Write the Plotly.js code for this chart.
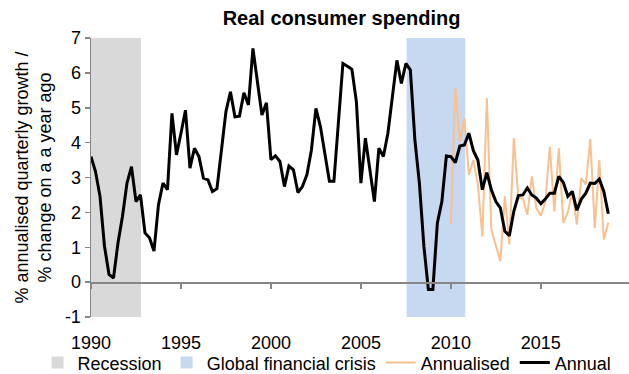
<!DOCTYPE html>
<html>
<head>
<meta charset="utf-8">
<script src="https://cdn.plot.ly/plotly-3.0.1.min.js"></script>
<style>html,body{margin:0;padding:0;background:#fff;}#chart{width:629px;height:374px;}</style>
</head>
<body>
<div id="chart"></div>
<script>
// Quarterly series (first quarter of the start year onward)
const annualStart = 1990;
const annualValues = [
  3.6, 3.17, 2.46, 1.03,
  0.22, 0.12, 1.12, 1.89,
  2.84, 3.31, 2.31, 2.5,
  1.41, 1.27, 0.89, 2.22,
  2.84, 2.65, 4.84, 3.65,
  4.27, 4.93, 3.27, 3.84,
  3.6, 2.98, 2.93, 2.6,
  2.68, 3.79, 4.89, 5.46,
  4.74, 4.76, 5.43, 5.08,
  6.70, 5.74, 4.79, 5.14,
  3.51, 3.62, 3.46, 2.74,
  3.33, 3.22, 2.57, 2.74,
  3.08, 3.79, 4.98, 4.46,
  3.7, 2.89, 2.89, 4.65,
  6.27, 6.19, 6.1, 5.17,
  2.84, 4.13, 3.22, 2.31,
  3.84, 3.6, 4.27, 5.3,
  6.36, 5.7, 6.27, 6.08,
  4.08, 2.84, 1.03, -0.21,
  -0.21, 1.7, 2.31, 3.62,
  3.6, 3.43, 3.9, 3.93,
  4.27, 3.77, 3.5, 2.65,
  3.14, 2.65, 2.31, 2.13,
  1.46, 1.33, 2.03, 2.48,
  2.5, 2.7, 2.5, 2.41,
  2.25, 2.38, 2.55, 2.55,
  3.03, 2.86, 2.46, 2.6,
  2.06, 2.38, 2.55, 2.84,
  2.83, 2.95, 2.6, 1.96
];
const annualisedStart = 2010;
const annualisedValues = [
  1.65, 5.58, 4.03, 4.7,
  3.08, 3.5, 2.8, 1.31,
  5.27, 1.51, 1.05, 0.6,
  2.46, 1.08, 4.13, 2.41,
  2.4, 1.93, 3.03, 2.13,
  1.9, 2.3, 3.89, 2.03,
  3.84, 1.7, 2.0, 2.6,
  1.65, 2.98, 2.8, 4.1,
  1.55, 3.5, 1.22, 1.7
];
// Shaded periods (decimal years)
const recessionPeriod = [1990.0, 1992.78];
const gfcPeriod = [2007.54, 2010.8];
// Axis ticks
const xTickVals = [1990, 1995, 2000, 2005, 2010, 2015];
const yTickVals = [-1, 0, 1, 2, 3, 4, 5, 6, 7];

const quarters = (start, n) => Array.from({length: n}, (_, i) => start + i / 4);

const FONT = 'Liberation Sans, Arial, sans-serif';
const AXIS_GREY = '#868686';
const yRange = [-1, 7];
const xRange = [1990, 2019.9];
const W = 629, H = 374;

const traces = [
  {
    x: quarters(annualisedStart, annualisedValues.length),
    y: annualisedValues,
    type: 'scatter', mode: 'lines', name: 'Annualised',
    line: {color: '#FAC090', width: 2},
    legendrank: 3, hoverinfo: 'skip'
  },
  {
    x: quarters(annualStart, annualValues.length),
    y: annualValues,
    type: 'scatter', mode: 'lines', name: 'Annual',
    line: {color: '#000000', width: 3},
    legendrank: 4, hoverinfo: 'skip'
  },
  {x: [], y: [], xaxis: 'x2', type: 'scatter', showlegend: false}
];

const layout = {
  width: W, height: H,
  margin: {l: 0, r: 0, t: 38, b: 57},
  paper_bgcolor: '#fff', plot_bgcolor: '#fff',
  font: {family: FONT, size: 18, color: '#000'},
  title: {
    text: '<b>Real consumer spending</b>',
    font: {family: FONT, size: 20, color: '#000'},
    xref: 'container', x: 0.543, xanchor: 'center',
    yref: 'container', y: 0.952, yanchor: 'middle'
  },
  xaxis: {
    domain: [91 / W, 1],
    range: xRange, tickvals: xTickVals, ticktext: xTickVals.map(String),
    showgrid: false, zeroline: false, showline: false,
    ticks: 'outside', ticklen: 9, tickcolor: 'rgba(0,0,0,0)',
    tickfont: {family: FONT, size: 18, color: '#000'}
  },
  xaxis2: {
    domain: [91 / W, 1],
    overlaying: 'x', anchor: 'free',
    position: (0 - yRange[0]) / (yRange[1] - yRange[0]),
    range: xRange, tickvals: xTickVals, showticklabels: false,
    showgrid: false, zeroline: false,
    showline: true, linecolor: AXIS_GREY, linewidth: 1.5,
    ticks: 'outside', ticklen: 5, tickcolor: AXIS_GREY, tickwidth: 1.5
  },
  yaxis: {
    range: yRange, tickvals: yTickVals, ticktext: yTickVals.map(String),
    showgrid: false, zeroline: false,
    showline: true, linecolor: AXIS_GREY, linewidth: 1.5,
    ticks: 'outside', ticklen: 5, tickcolor: AXIS_GREY, tickwidth: 1.5,
    tickfont: {family: FONT, size: 18, color: '#000'},
    title: {
      text: '% annualised quarterly growth /<br>% change on a a year ago',
      font: {family: FONT, size: 18, color: '#000'},
      standoff: 8
    }
  },
  shapes: [
    {
      type: 'rect', xref: 'x', yref: 'paper',
      x0: recessionPeriod[0], x1: recessionPeriod[1], y0: 0, y1: 1,
      fillcolor: '#D9D9D9', line: {width: 0}, layer: 'below',
      showlegend: true, name: 'Recession', legendrank: 1
    },
    {
      type: 'rect', xref: 'x', yref: 'paper',
      x0: gfcPeriod[0], x1: gfcPeriod[1], y0: 0, y1: 1,
      fillcolor: '#C6D9F1', line: {width: 0}, layer: 'below',
      showlegend: true, name: 'Global financial crisis', legendrank: 2
    }
  ],
  showlegend: true,
  legend: {
    orientation: 'h', xref: 'container', yref: 'container',
    x: 0.52, xanchor: 'center', y: 0.03, yanchor: 'middle',
    font: {family: FONT, size: 18, color: '#000'},
    itemwidth: 30, tracegroupgap: 0, bgcolor: 'rgba(0,0,0,0)'
  }
};

Plotly.newPlot('chart', traces, layout, {staticPlot: true, displayModeBar: false});
</script>
</body>
</html>
